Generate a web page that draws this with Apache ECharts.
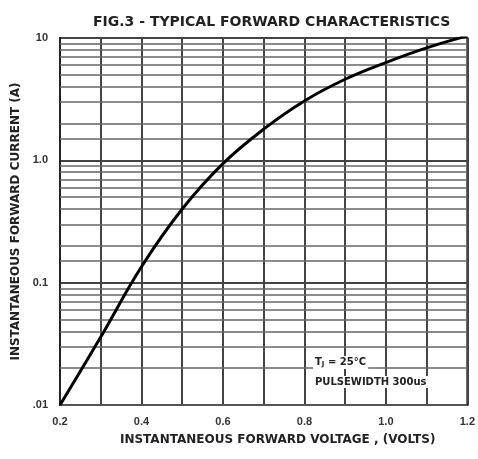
<!DOCTYPE html>
<html>
<head>
<meta charset="utf-8">
<script src="https://cdn.jsdelivr.net/npm/echarts@6/dist/echarts.min.js"></script>
<style>
  html, body { margin: 0; padding: 0; background: #fff; }
  #chart { width: 478px; height: 459px; }
</style>
</head>
<body>
<div id="chart"></div>
<script>
// forward voltage (V) and forward current (A)
const voltage = [0.2, 0.3, 0.4, 0.5, 0.6, 0.7, 0.8, 0.9, 1.0, 1.1, 1.2]
const current = [0.01, 0.036, 0.135, 0.40, 0.94, 1.80, 3.06, 4.6, 6.3, 8.3, 10.4]
// log paper minor lines (1.5, 2 .. 9 in each decade)
const minorSteps = [1.5, 2, 3, 4, 5, 6, 7, 8, 9]
const decades = [0.01, 0.1, 1]
const yTickLabels = { 0.01: '.01', 0.1: '0.1', 1: '1.0', 10: '10' }

const font = '"DejaVu Sans", Verdana, sans-serif'
const labelFont = '"Liberation Sans", Arial, sans-serif'

const minorLines = []
decades.forEach(d => {
  minorSteps.forEach(s => {
    minorLines.push({ yAxis: +(s * d).toPrecision(3) })
  })
})

const chart = echarts.init(document.getElementById('chart'))

const option = {
  animation: false,
  backgroundColor: '#fff',
  title: {
    text: 'FIG.3 - TYPICAL FORWARD CHARACTERISTICS',
    left: 88,
    top: 10,
    textStyle: { fontFamily: font, fontSize: 14, fontWeight: 'bold', color: '#222' }
  },
  grid: {
    left: 60,
    right: 8,
    top: 38,
    bottom: 54,
    show: true,
    borderColor: '#222',
    borderWidth: 2
  },
  xAxis: {
    type: 'value',
    min: 0.2,
    max: 1.2,
    interval: 0.1,
    name: 'INSTANTANEOUS FORWARD VOLTAGE , (VOLTS)',
    nameLocation: 'middle',
    nameGap: 29,
    nameTextStyle: { fontFamily: font, fontSize: 12, fontWeight: 'bold', color: '#222', padding: [0, 0, 0, 28] },
    axisLine: { show: true, lineStyle: { color: '#222', width: 2 } },
    axisTick: { show: false },
    axisLabel: {
      margin: 11,
      fontFamily: labelFont,
      fontSize: 11,
      fontWeight: 'bold',
      color: '#333',
      // only every second value is labelled
      formatter: v => (Math.round(v * 10) % 2 === 0 ? v.toFixed(1) : '')
    },
    splitLine: { show: true, lineStyle: { color: '#444', width: 2 } }
  },
  yAxis: {
    type: 'log',
    logBase: 10,
    min: 0.01,
    max: 10,
    name: 'INSTANTANEOUS FORWARD CURRENT (A)',
    nameLocation: 'middle',
    nameRotate: 90,
    nameGap: 36,
    nameTextStyle: { fontFamily: font, fontSize: 12, fontWeight: 'bold', color: '#222' },
    axisLine: { show: true, lineStyle: { color: '#222', width: 2 } },
    axisTick: { show: false },
    axisLabel: {
      margin: 12,
      fontFamily: labelFont,
      fontSize: 11,
      fontWeight: 'bold',
      color: '#333',
      formatter: v => yTickLabels[+v.toPrecision(3)] || ''
    },
    splitLine: { show: true, lineStyle: { color: '#444', width: 2 } }
  },
  series: [
    {
      // minor horizontal grid lines of the log paper
      type: 'line',
      data: [],
      silent: true,
      markLine: {
        silent: true,
        symbol: 'none',
        label: { show: false },
        lineStyle: { type: 'solid', color: '#666', width: 1.5 },
        data: minorLines
      }
    },
    {
      name: 'forward current',
      type: 'line',
      smooth: 0.4,
      showSymbol: false,
      clip: true,
      data: voltage.map((v, i) => [v, current[i]]),
      lineStyle: { color: '#000', width: 3 },
      z: 5
    }
  ],
  graphic: [
    {
      type: 'text',
      left: 313,
      top: 356,
      z: 10,
      style: {
        text: '{a|T}{s|J}{a| = 25°C}',
        backgroundColor: '#fff',
        padding: [1, 2],
        rich: {
          a: { fontFamily: font, fontSize: 10, fontWeight: 'bold', fill: '#222' },
          s: { fontFamily: font, fontSize: 7, fontWeight: 'bold', fill: '#222', verticalAlign: 'bottom', padding: [4, 0, 0, 0] }
        }
      }
    },
    {
      type: 'text',
      left: 313,
      top: 376,
      z: 10,
      style: {
        text: 'PULSEWIDTH 300us',
        fontFamily: font,
        fontSize: 10,
        fontWeight: 'bold',
        fill: '#222',
        backgroundColor: '#fff',
        padding: [1, 2]
      }
    }
  ]
}

chart.setOption(option)
</script>
</body>
</html>
